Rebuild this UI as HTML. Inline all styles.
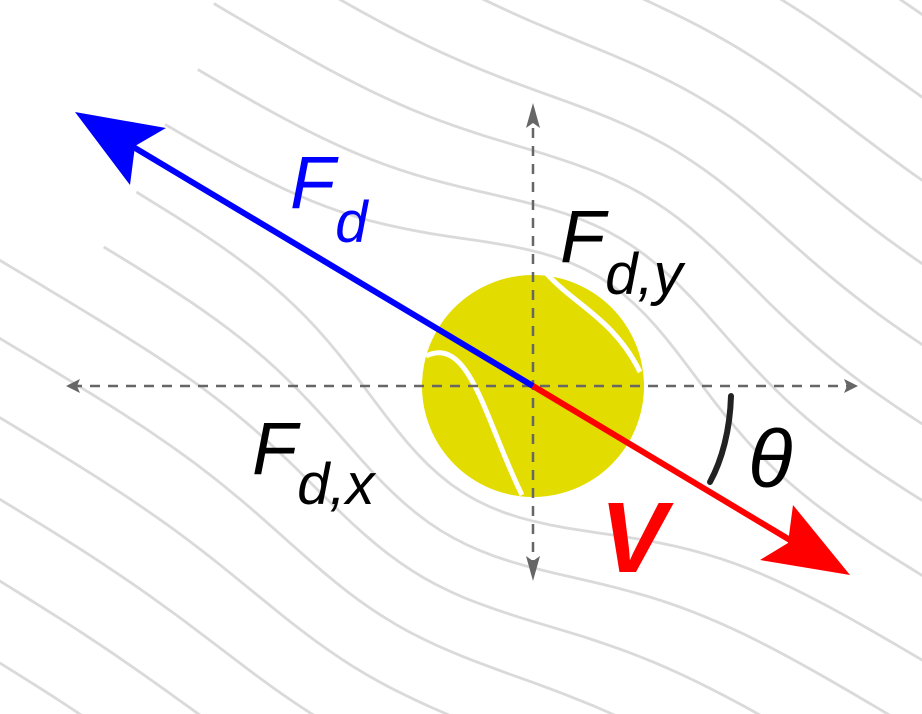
<!DOCTYPE html>
<html><head><meta charset="utf-8"><style>
html,body{margin:0;padding:0;background:#fff;overflow:hidden;width:922px;height:714px;}
svg{display:block;overflow:hidden;}
text{font-family:"Liberation Sans","DejaVu Sans",sans-serif;}
</style></head><body>
<svg id="fig" width="922" height="714" viewBox="0 0 922 714" xmlns="http://www.w3.org/2000/svg">
<g id="streams"></g>
<circle cx="533" cy="386" r="111" fill="#e3dc00"/>
<path d="M547,274 C575,305 615,320 640,372" stroke="#fff" stroke-width="5" fill="none"/>
<path d="M426,356 C470,335 485,420 522,495" stroke="#fff" stroke-width="5" fill="none"/>
<g stroke="#666" stroke-width="2.5" stroke-dasharray="10,8" fill="none">
<line x1="72" y1="386" x2="852" y2="386"/>
<line x1="533" y1="110" x2="533" y2="575"/>
</g>
<path d="M66,386 l14,-7 l-3,7 l3,7z M858,386 l-14,-7 l3,7 l-3,7z M533,103 l-7,25 l7,-5 l7,5z M533,581 l-7,-25 l7,5 l7,-5z" fill="#666"/>
<line x1="533" y1="386" x2="120" y2="139" stroke="#0000ff" stroke-width="6"/>
<path d="M75,112 L166,128 L135,146 L130,185 Z" fill="#0000ff"/>
<line x1="533" y1="386" x2="810" y2="552" stroke="#ff0000" stroke-width="6"/>
<path d="M850,575 L760,560 L788,543 L793,505 Z" fill="#ff0000"/>
<path d="M731,396 C730,430 722,460 710,482" stroke="#222" stroke-width="6" fill="none" stroke-linecap="round"/>
<text x="290" y="208" font-size="74" font-style="italic" fill="#0000ff">F<tspan font-size="58" dy="34">d</tspan></text>
<text x="560" y="262" font-size="74" font-style="italic" fill="#000">F<tspan font-size="58" dy="32">d,y</tspan></text>
<text x="252" y="474" font-size="74" font-style="italic" fill="#000">F<tspan font-size="58" dy="30">d,x</tspan></text>
<text x="748" y="487" font-size="82" font-style="italic" fill="#000">θ</text>
<text x="600" y="572" font-size="100" font-style="italic" font-weight="bold" fill="#ff0000">V</text>
</svg>
<script>
const offsets=[-580,-510,-440,-370,-300,-232,-165,-100,-36,36,100,165,232,300,370,440,510,580];
const starts=[-1300,-1300,-1300,-1300,-1300,-700,-470,-450,-450,-440,-440,-1300,-1300,-1300,-1300,-1300,-1300,-1300];
const cx=533, cy=386;
const ux=0.859, uy=0.512, nx=-0.512, ny=0.859;
const g=document.getElementById('streams');
offsets.forEach((p0,i)=>{
  let d='';
  for(let s=starts[i];s<=1300;s+=15){
    const bump=105*Math.exp(-Math.abs(p0)/260)*Math.exp(-(s*s)/(190*190));
    const p=p0+Math.sign(p0)*bump;
    const x=cx+ux*s+nx*p, y=cy+uy*s+ny*p;
    d+=(d?'L':'M')+x.toFixed(1)+','+y.toFixed(1);
  }
  const path=document.createElementNS('http://www.w3.org/2000/svg','path');
  path.setAttribute('d',d);
  path.setAttribute('stroke','#dadada');
  path.setAttribute('stroke-width','2.8');
  path.setAttribute('fill','none');
  
  
  g.appendChild(path);
});
</script>
</body></html>
